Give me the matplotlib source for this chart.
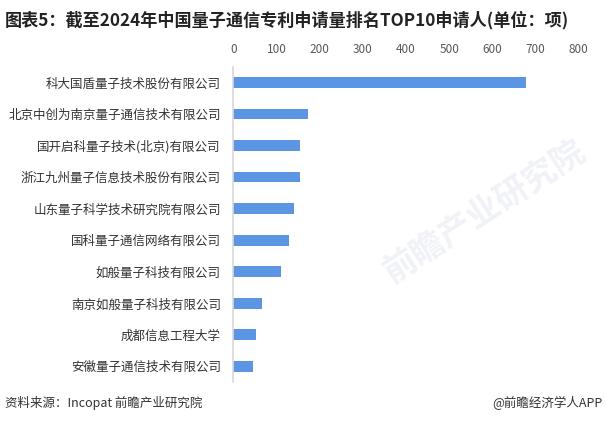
import matplotlib
matplotlib.use("Agg")
import matplotlib.pyplot as plt

plt.rcParams['font.family'] = ['Noto Sans CJK SC', 'DejaVu Sans']

applicants = ['科大国盾量子技术股份有限公司', '北京中创为南京量子通信技术有限公司',
              '国开启科量子技术(北京)有限公司', '浙江九州量子信息技术股份有限公司',
              '山东量子科学技术研究院有限公司', '国科量子通信网络有限公司',
              '如般量子科技有限公司', '南京如般量子科技有限公司',
              '成都信息工程大学', '安徽量子通信技术有限公司']
counts = [677, 174, 154, 154, 140, 129, 110, 66, 52, 45]
xticks = [0, 100, 200, 300, 400, 500, 600, 700, 800]

fig = plt.figure(figsize=(6.06, 4.23), dpi=100)
fig.set_facecolor('white')
ax = fig.add_axes([0.385, 0.097, 0.570, 0.745])

ypos = list(range(len(applicants)))
ax.barh(ypos, counts, height=0.34, color='#5b95e4', zorder=2)

ax.set_xlim(0, 800)
ax.set_ylim(len(applicants) - 0.5, -0.5)
ax.set_xticks(xticks)
ax.xaxis.tick_top()
ax.tick_params(axis='x', length=0, pad=8, labelsize=8.5, labelcolor='#595959')
ax.set_yticks(ypos)
ax.set_yticklabels(applicants)
ax.tick_params(axis='y', length=0, pad=9, labelsize=9, labelcolor='#333333')

for s in ['top', 'right', 'bottom']:
    ax.spines[s].set_visible(False)
ax.spines['left'].set_color('#d9d9d9')
ax.spines['left'].set_linewidth(1.2)

# faint watermark
fig.text(0.80, 0.50, '前瞻产业研究院', fontsize=24, color='#f0f2f7', rotation=33,
         ha='center', va='center', zorder=0, fontweight='bold')

fig.text(0.008, 0.952, '图表5：截至2024年中国量子通信专利申请量排名TOP10申请人(单位：项)',
         fontsize=12.3, fontweight='bold', color='#222222', ha='left', va='center')
fig.text(0.008, 0.047, '资料来源：Incopat 前瞻产业研究院', fontsize=9, color='#333333',
         ha='left', va='center')
fig.text(0.995, 0.047, '@前瞻经济学人APP', fontsize=9, color='#333333',
         ha='right', va='center')

plt.savefig('out.png', dpi=100)
